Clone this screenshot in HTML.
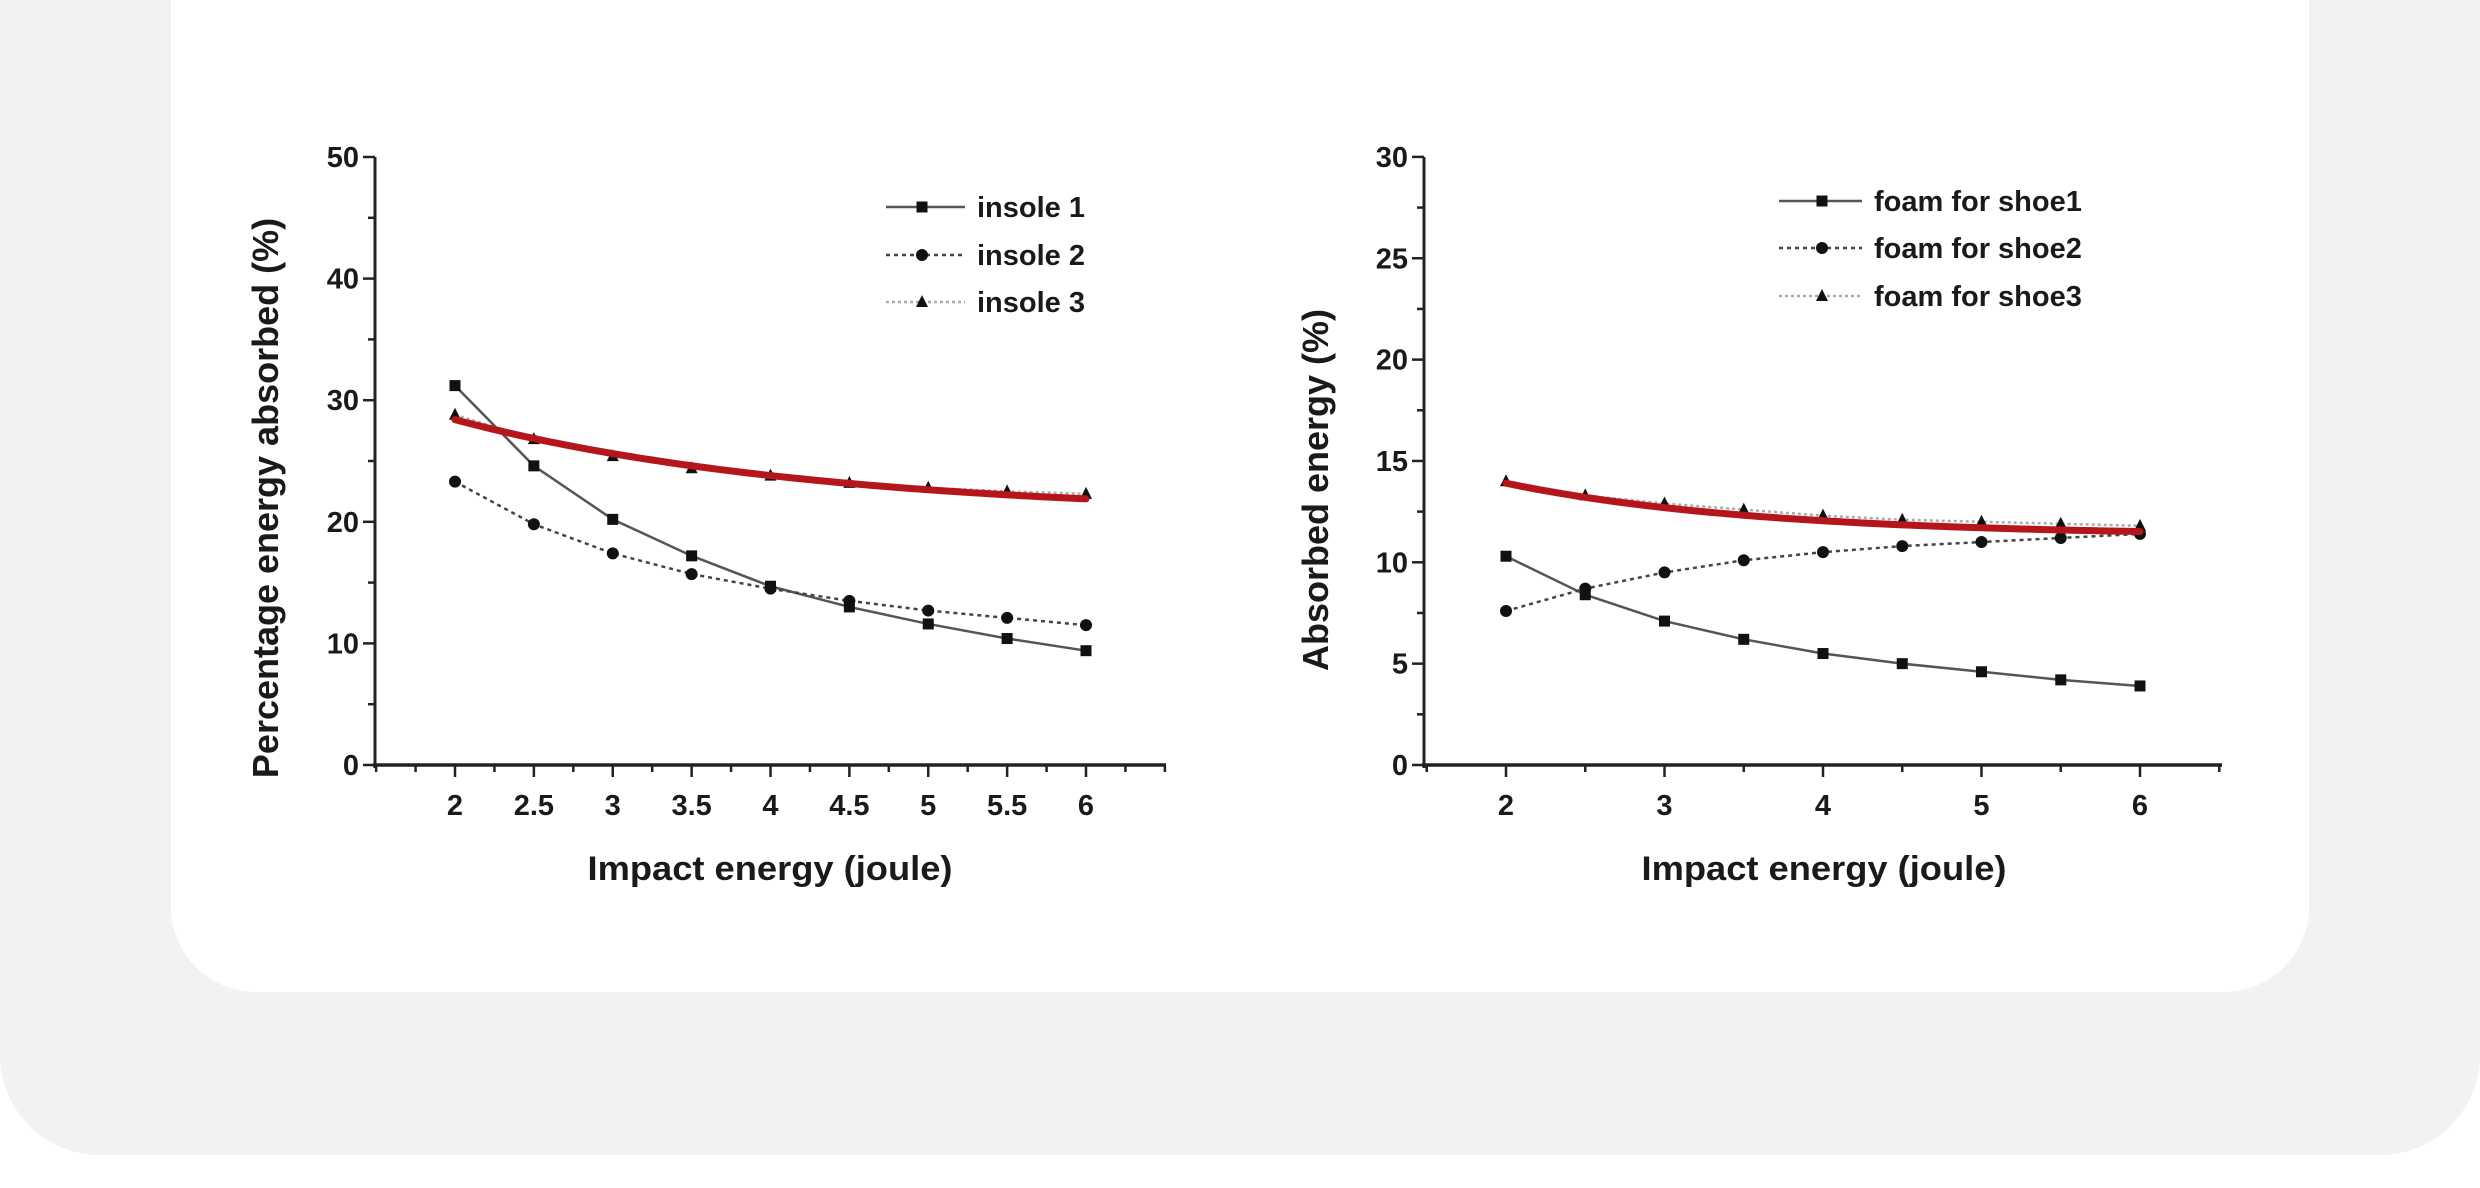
<!DOCTYPE html>
<html><head><meta charset="utf-8"><style>
html,body{margin:0;padding:0;background:#fff;width:2480px;height:1188px;overflow:hidden}
svg{display:block}
text{font-family:"Liberation Sans",Arial,sans-serif;font-weight:bold;fill:#1a1a1a}
</style></head><body>
<svg id="s" width="2480" height="1188" viewBox="0 0 2480 1188" xmlns="http://www.w3.org/2000/svg">
<rect x="0" y="-200" width="2480" height="1355" rx="100" fill="#f2f2f4"/>
<rect x="171" y="-200" width="2138" height="1192" rx="85" fill="#ffffff"/>
<g id="g"></g>
<text x="278" y="498" font-size="36" text-anchor="middle" transform="rotate(-90 278 498)">Percentage energy absorbed (%)</text>
<text x="1328" y="490" font-size="36" text-anchor="middle" transform="rotate(-90 1328 490)">Absorbed energy (%)</text>
<text x="770" y="880" font-size="34" text-anchor="middle" textLength="365" lengthAdjust="spacingAndGlyphs">Impact energy (joule)</text>
<text x="1824" y="880" font-size="34" text-anchor="middle" textLength="365" lengthAdjust="spacingAndGlyphs">Impact energy (joule)</text>
</svg>
<script>
var g=document.getElementById('g'),h='';
function L(x1,y1,x2,y2,c,w,d){h+='<line x1="'+x1+'" y1="'+y1+'" x2="'+x2+'" y2="'+y2+'" stroke="'+c+'" stroke-width="'+w+'"'+(d?' stroke-dasharray="'+d+'"':'')+'/>';}
function T(x,y,s,sz,a){h+='<text x="'+x+'" y="'+y+'" font-size="'+sz+'" text-anchor="'+(a||'middle')+'">'+s+'</text>';}
function mk(t,x,y){if(t==0)h+='<rect x="'+(x-5.5)+'" y="'+(y-5.5)+'" width="11" height="11" fill="#111"/>';
 else if(t==1)h+='<circle cx="'+x+'" cy="'+y+'" r="6" fill="#111"/>';
 else h+='<polygon points="'+x+','+(y-7)+' '+(x+6)+','+(y+5)+' '+(x-6)+','+(y+5)+'" fill="#111"/>';}
function chart(o){
 var X=function(v){return o.x2+(v-2)*o.sx},Y=function(v){return 765-v*o.sy};
 L(o.ax,157,o.ax,768,'#222',3);L(o.ax-2,765,o.ae,765,'#222',3.5);
 for(var v=0;v<=o.ym+0.001;v+=o.minor){var maj=Math.abs(v/o.major-Math.round(v/o.major))<0.01;L(o.ax-(maj?12:7),Y(v),o.ax,Y(v),'#222',2.5);if(maj)T(o.ax-16,Y(v)+10,String(v),29,'end');}
 for(var v=1.5;v<=6.51;v+=o.xminor){var maj=o.xl.indexOf(Math.round(v*100)/100)>=0;L(X(v),765,X(v),765+(maj?12:7),'#222',2.5);if(maj)T(X(v),815,String(Math.round(v*100)/100),29);}
 var xs=[2,2.5,3,3.5,4,4.5,5,5.5,6];
 var st=[['#555',2.5,''],['#444',2.5,'4,4'],['#aaa',2.5,'3,3']];
 o.d.forEach(function(d,i){var p=xs.map(function(x,j){return X(x)+','+Y(d[j])}).join(' ');
  h+='<polyline points="'+p+'" fill="none" stroke="'+st[i][0]+'" stroke-width="'+st[i][1]+'"'+(st[i][2]?' stroke-dasharray="'+st[i][2]+'"':'')+'/>';
  xs.forEach(function(x,j){mk(i,X(x),Y(d[j]))});});
 var rp=[];for(var x=2;x<=6.001;x+=0.05){var r=o.r[0]+o.r[1]*Math.exp(-o.r[2]*(x-2));rp.push(X(x)+','+Y(r));}
 h+='<polyline points="'+rp.join(' ')+'" fill="none" stroke="#b5161b" stroke-width="7" stroke-linecap="round"/>';
 o.lg.forEach(function(s,i){var y=o.ly[i];L(o.lx[0],y,o.lx[2],y,st[i][0],2.5,st[i][2]);mk(i,o.lx[1],y);T(o.lx[3],y+10,s,29,'start');});
}
chart({ax:375,ae:1166,x2:455,sx:157.75,sy:12.16,ym:50,major:10,minor:5,xminor:0.25,xl:[2,2.5,3,3.5,4,4.5,5,5.5,6],
 d:[[31.2,24.6,20.2,17.2,14.7,13.0,11.6,10.4,9.4],[23.3,19.8,17.4,15.7,14.5,13.5,12.7,12.1,11.5],[28.8,26.8,25.4,24.4,23.8,23.2,22.8,22.5,22.3]],
 r:[20.5,7.9,0.436],lg:['insole 1','insole 2','insole 3'],ly:[207,255,302],lx:[886,922,965,977]});
chart({ax:1424,ae:2222,x2:1506,sx:158.5,sy:20.27,ym:30,major:5,minor:2.5,xminor:0.5,xl:[2,3,4,5,6],
 d:[[10.3,8.4,7.1,6.2,5.5,5.0,4.6,4.2,3.9],[7.6,8.7,9.5,10.1,10.5,10.8,11.0,11.2,11.4],[14.0,13.3,12.9,12.6,12.3,12.1,12.0,11.9,11.8]],
 r:[11.3,2.6,0.622],lg:['foam for shoe1','foam for shoe2','foam for shoe3'],ly:[201,248,296],lx:[1779,1822,1862,1874]});
g.innerHTML=h;
</script>
</body></html>
